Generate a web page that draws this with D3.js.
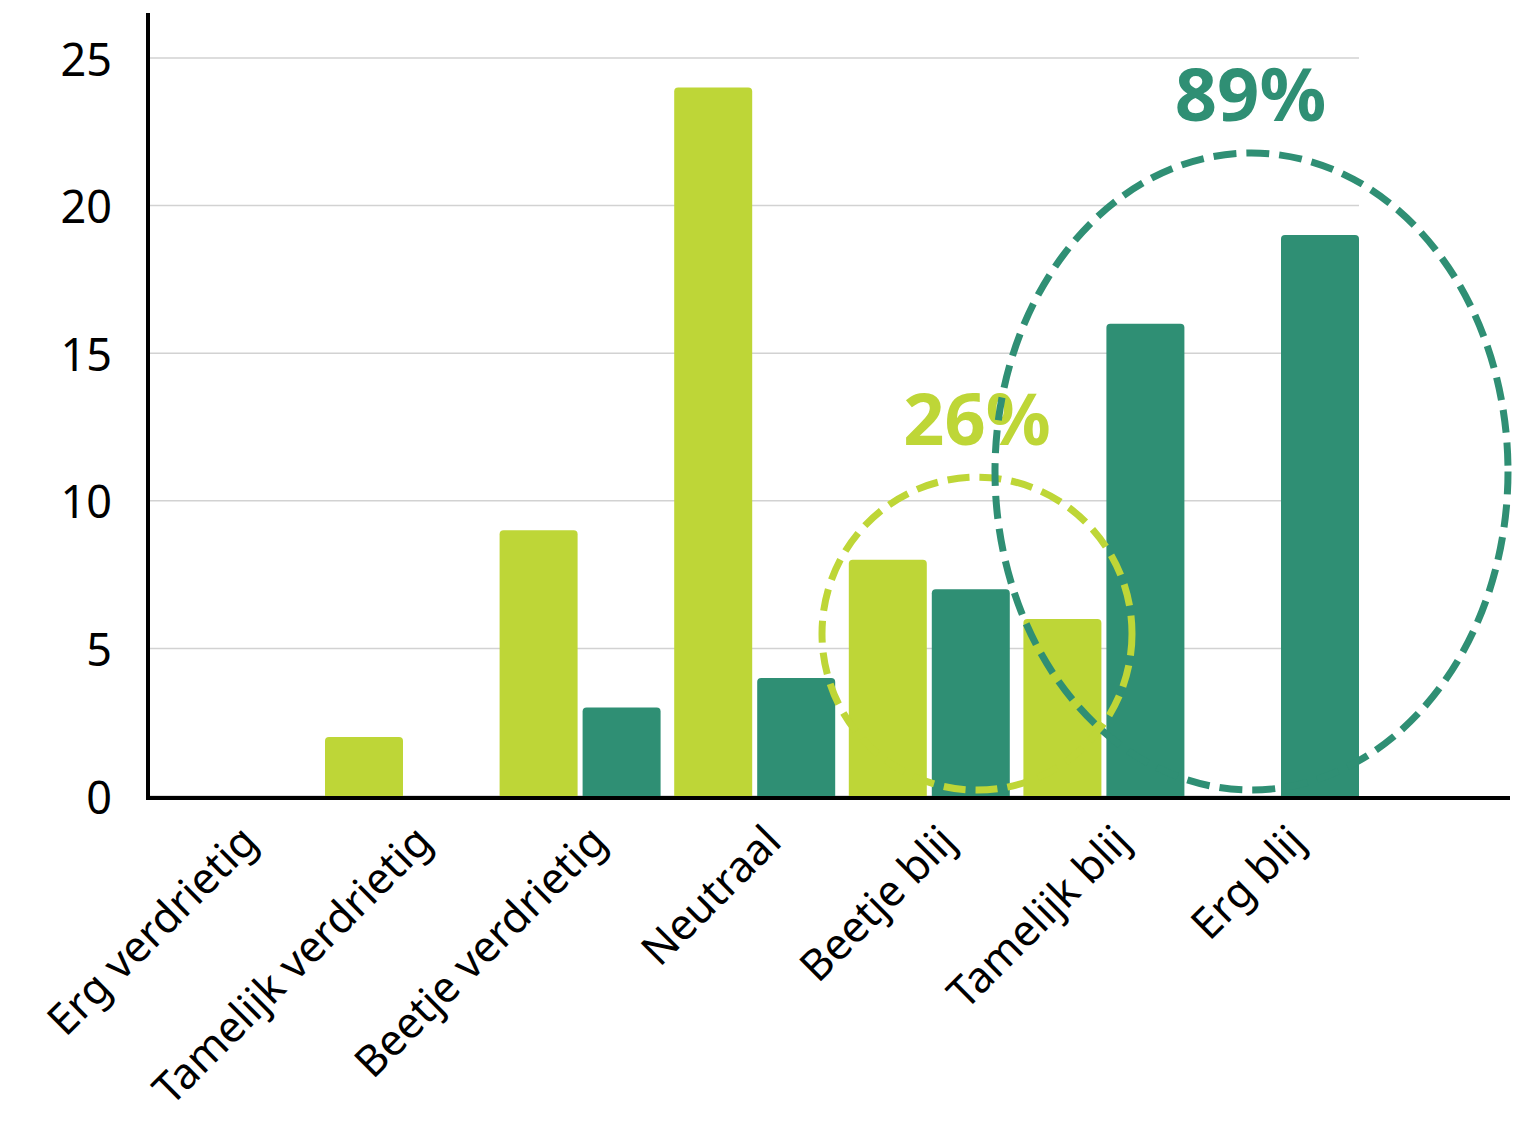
<!DOCTYPE html>
<html>
<head>
<meta charset="utf-8">
<script src="https://cdn.jsdelivr.net/npm/d3@7"></script>
<style>
  html, body { margin: 0; padding: 0; background: #ffffff; }
  svg { display: block; }
  text { font-family: "Noto Sans", "Open Sans", sans-serif; }
</style>
</head>
<body>
<svg id="chart" width="1530" height="1121"></svg>
<script>
// Mood answers: number of respondents per category, two measurements
const categories = ["Erg verdrietig", "Tamelijk verdrietig", "Beetje verdrietig", "Neutraal", "Beetje blij", "Tamelijk blij", "Erg blij"];
const seriesKeys = ["eerste", "tweede"];
const firstValues = [0, 2, 9, 24, 8, 6, 0];
const secondValues = [0, 0, 3, 4, 7, 16, 19];
const yTickValues = [0, 5, 10, 15, 20, 25];
const calloutTexts = ["26%", "89%"];

const LIGHT = "#bed637";
const DARK = "#2f8f74";

const svg = d3.select("#chart");

const x0 = d3.scaleBand().domain(categories).range([150.4, 150.4 + 7 * 174.6]).paddingInner(0).paddingOuter(0);
const x1 = d3.scaleBand().domain(seriesKeys).range([0, 161]).paddingInner(5 / 83).paddingOuter(0);
const y = d3.scaleLinear().domain([0, 25]).range([796, 58]);
const color = d3.scaleOrdinal().domain(seriesKeys).range([LIGHT, DARK]);

const rows = categories.map((c, i) => ({ cat: c, values: [
  { key: "eerste", value: firstValues[i] },
  { key: "tweede", value: secondValues[i] }
]}));

// horizontal gridlines
const gridRight = x0("Erg blij") + x1("tweede") + x1.bandwidth();
svg.append("g").selectAll("line").data(yTickValues).join("line")
  .attr("x1", 150).attr("x2", gridRight)
  .attr("y1", d => y(d)).attr("y2", d => y(d))
  .attr("stroke", "#d2d2d2").attr("stroke-width", 1.5);

// bars with slightly rounded tops
function roundedTop(x, yTop, w, h, r) {
  r = Math.min(r, h, w / 2);
  return `M${x},${yTop + h}V${yTop + r}Q${x},${yTop} ${x + r},${yTop}H${x + w - r}Q${x + w},${yTop} ${x + w},${yTop + r}V${yTop + h}Z`;
}
svg.append("g").selectAll("g").data(rows).join("g")
  .attr("transform", d => `translate(${x0(d.cat)},0)`)
  .selectAll("path").data(d => d.values.filter(v => v.value > 0)).join("path")
  .attr("d", v => roundedTop(x1(v.key), y(v.value), x1.bandwidth(), y(0) - y(v.value), 4))
  .attr("fill", v => color(v.key));

// y axis labels
const yAxis = svg.append("g").attr("transform", "translate(148,0)")
  .call(d3.axisLeft(y).tickValues(yTickValues).tickSize(0).tickPadding(36).tickFormat(d3.format("d")));
yAxis.select(".domain").remove();
yAxis.selectAll("text").attr("font-size", 45).attr("fill", "#000").attr("dy", "0.38em")
  .style("font-family", '"Noto Sans", sans-serif');

// x axis labels, rotated
const xAxis = svg.append("g").attr("transform", "translate(0,798)")
  .call(d3.axisBottom(x0).tickSize(0));
xAxis.select(".domain").remove();
xAxis.selectAll("text")
  .attr("x", 0).attr("y", 0).attr("dy", 0)
  .attr("transform", "translate(22,46) rotate(-45)")
  .attr("text-anchor", "end")
  .attr("font-size", 43).attr("fill", "#000")
  .style("font-family", '"Noto Sans", sans-serif');

// axis lines
svg.append("line").attr("x1", 148).attr("x2", 148).attr("y1", 13).attr("y2", 800)
  .attr("stroke", "#000").attr("stroke-width", 4);
svg.append("line").attr("x1", 146).attr("x2", 1510).attr("y1", 798).attr("y2", 798)
  .attr("stroke", "#000").attr("stroke-width", 4);

// callout: small dashed circle around the happy side of the first measurement
svg.append("ellipse")
  .attr("cx", 977).attr("cy", y(5.5)).attr("rx", 155).attr("ry", y(0) - y(5.3))
  .attr("fill", "none").attr("stroke", LIGHT).attr("stroke-width", 7)
  .attr("stroke-dasharray", "22 10");
svg.append("text").attr("x", 977).attr("y", 445)
  .attr("text-anchor", "middle").attr("font-size", 72).attr("font-weight", 700)
  .attr("fill", LIGHT).text(calloutTexts[0]);

// callout: large dashed ellipse around the happy side of the second measurement
svg.append("ellipse")
  .attr("cx", 1251.5).attr("cy", 471.5).attr("rx", 256.5).attr("ry", 318.5)
  .attr("fill", "none").attr("stroke", DARK).attr("stroke-width", 7)
  .attr("stroke-dasharray", "23 10");
svg.append("text").attr("x", 1250.5).attr("y", 121)
  .attr("text-anchor", "middle").attr("font-size", 74).attr("font-weight", 700)
  .attr("fill", DARK).text(calloutTexts[1]);
</script>
</body>
</html>
